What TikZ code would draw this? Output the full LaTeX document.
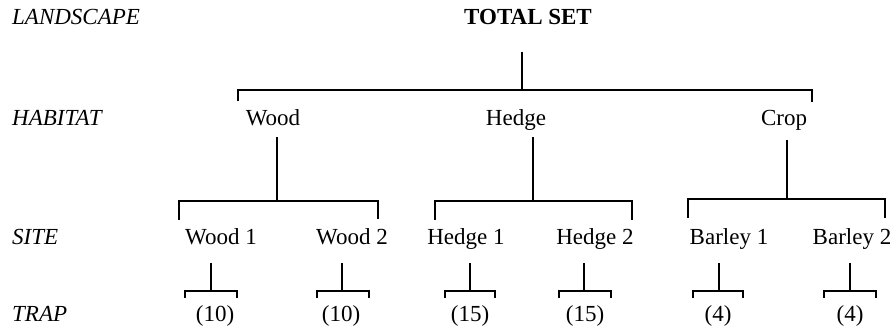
\documentclass[tikz,border=0pt]{standalone}
\usepackage{fontspec}
\setmainfont{Liberation Serif}
\begin{document}
\begin{tikzpicture}[x=1pt,y=-1pt,
  lbl/.style={inner sep=0pt,anchor=base,font=\fontsize{23}{27}\selectfont},
  lvl/.style={inner sep=0pt,anchor=base west,font=\fontsize{23}{27}\selectfont\itshape},
  ln/.style={line width=1.8pt,line cap=butt}]
\useasboundingbox (0,0) rectangle (892,331);
% level labels
\node[lvl] (Lland) at (12,25) {LANDSCAPE};
\node[lvl] (Lhab) at (12,126) {HABITAT};
\node[lvl] (Lsite) at (12,245) {SITE};
\node[lvl] (Ltrap) at (12,321) {TRAP};
% nodes
\node[lbl,font=\fontsize{23}{27}\selectfont\bfseries] (ts) at (528,25) {TOTAL SET};
\node[lbl] (wood) at (273,126) {Wood};
\node[lbl] (hedge) at (516,126) {Hedge};
\node[lbl] (crop) at (784,126) {Crop};
\node[lbl] (w1) at (221,245) {Wood 1};
\node[lbl] (w2) at (352,245) {Wood 2};
\node[lbl] (h1) at (466,245) {Hedge 1};
\node[lbl] (h2) at (595,245) {Hedge 2};
\node[lbl] (b1) at (729,245) {Barley 1};
\node[lbl] (b2) at (852,245) {Barley 2};
\node[lbl] (t1) at (215,321) {(10)};
\node[lbl] (t2) at (341,321) {(10)};
\node[lbl] (t3) at (470,321) {(15)};
\node[lbl] (t4) at (585,321) {(15)};
\node[lbl] (t5) at (718,321) {(4)};
\node[lbl] (t6) at (850,321) {(4)};
% total set bracket
\coordinate (tsS) at (522,52);
\coordinate (tsB) at (522,90);
\coordinate (tsL) at (238,101);
\coordinate (tsR) at (812,102);
\draw[ln] (tsS) -- (tsB);
\draw[ln] (tsL) |- (tsB) -| (tsR);
% wood bracket
\coordinate (woS) at (277,137);
\coordinate (woB) at (277,201);
\coordinate (woL) at (179,220);
\coordinate (woR) at (378,219);
\draw[ln] (woS) -- (woB);
\draw[ln] (woL) |- (woB) -| (woR);
% hedge bracket
\coordinate (heS) at (533,137);
\coordinate (heB) at (533,201);
\coordinate (heL) at (435,220);
\coordinate (heR) at (632,220);
\draw[ln] (heS) -- (heB);
\draw[ln] (heL) |- (heB) -| (heR);
% crop bracket
\coordinate (crS) at (787,140);
\coordinate (crB) at (787,199);
\coordinate (crL) at (688,218);
\coordinate (crR) at (885,218);
\draw[ln] (crS) -- (crB);
\draw[ln] (crL) |- (crB) -| (crR);
% trap brackets
\foreach \n/\s/\l/\r in {a/211/185/237, b/342/317/369, c/470/445/495, d/584/559/611, e/719/693/743, f/850/824/876}{
  \coordinate (\n S) at (\s,263);
  \coordinate (\n B) at (\s,291);
  \coordinate (\n L) at (\l,298);
  \coordinate (\n R) at (\r,298);
  \draw[ln] (\n S) -- (\n B);
  \draw[ln] (\n L) |- (\n B) -| (\n R);
}
\end{tikzpicture}
\end{document}
